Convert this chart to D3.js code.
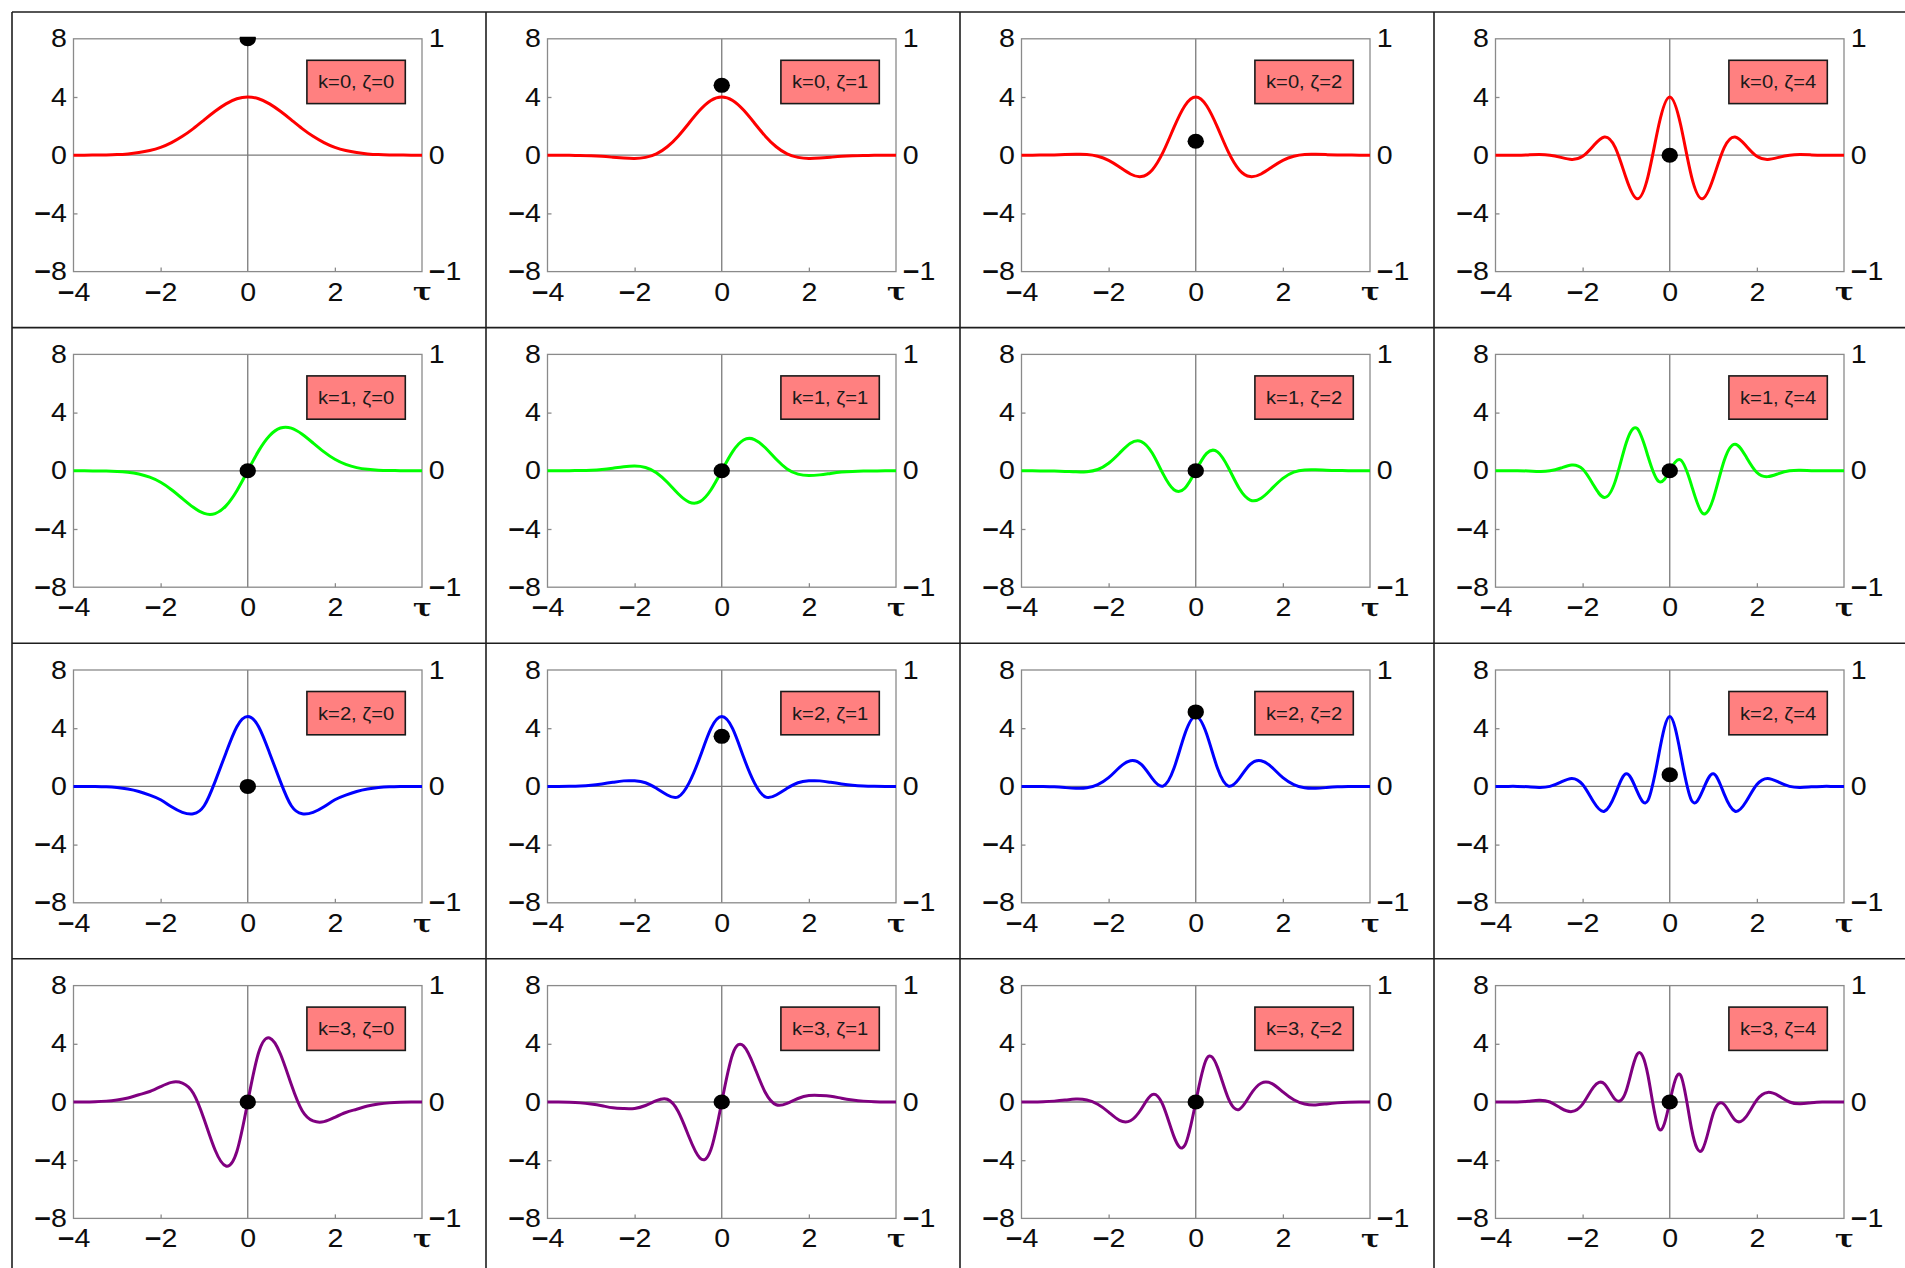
<!DOCTYPE html>
<html lang="en">
<head>
<meta charset="UTF-8">
<title>k / zeta panels</title>
<script src="https://cdn.jsdelivr.net/npm/d3@7"></script>
<style>
  body { margin: 0; background: #fff; }
  svg { display: block; font-family: "Liberation Sans", Arial, sans-serif; }
  .grid { stroke: #1e1e1e; stroke-width: 1.6; }
  .frame { fill: none; stroke: #8a8a8a; stroke-width: 1.3; }
  .zero { stroke: #7a7a7a; stroke-width: 1.3; }
  .axis line { stroke: #8a8a8a; stroke-width: 1.3; }
  .axis text { font-size: 25.5px; fill: #0d0d0d; }
  .axis text .minus { font-weight: bold; }
  .axis text.tau { font-family: "DejaVu Serif", serif; font-weight: bold; font-size: 25px; }
  .legend rect { fill: #ff8080; stroke: #1a1a1a; stroke-width: 1.6; }
  .legend text { font-size: 18px; fill: #1a1a1a; text-anchor: middle; }
  .curve { fill: none; stroke-width: 3; stroke-linejoin: round; }
</style>
</head>
<body>
<svg width="1905" height="1268"></svg>
<script>
// sample points along tau
const tau = [-4, -3.75, -3.5, -3.25, -3, -2.75, -2.5, -2.25, -2, -1.75, -1.5, -1.25, -1, -0.75, -0.5, -0.25,
             0, 0.25, 0.5, 0.75, 1, 1.25, 1.5, 1.75, 2, 2.25, 2.5, 2.75, 3, 3.25, 3.5, 3.75, 4];

const kValues = [0, 1, 2, 3];
const zetaValues = [0, 1, 2, 4];
const leftTicks = [-8, -4, 0, 4, 8];
const rightTicks = [-1, 0, 1];
const bottomTicks = [-4, -2, 0, 2, 4];

// curve values (left axis units), one array per panel
const k0z0 = [0, 0, 0.01, 0.02, 0.04, 0.09, 0.18, 0.32, 0.54, 0.87, 1.3, 1.83, 2.43, 3.02, 3.53, 3.88, 4, 3.88, 3.53, 3.02, 2.43, 1.83, 1.3, 0.87, 0.54, 0.32, 0.18, 0.09, 0.04, 0.02, 0.01, 0, 0];
const k0z1 = [0, 0, -0.01, -0.02, -0.04, -0.08, -0.14, -0.2, -0.23, -0.15, 0.09, 0.58, 1.31, 2.21, 3.1, 3.76, 4, 3.76, 3.1, 2.21, 1.31, 0.58, 0.09, -0.15, -0.23, -0.2, -0.14, -0.08, -0.04, -0.02, -0.01, 0, 0];
const k0z2 = [0, 0, 0.01, 0.02, 0.04, 0.06, 0.05, -0.07, -0.35, -0.81, -1.29, -1.47, -1.01, 0.21, 1.91, 3.4, 4, 3.4, 1.91, 0.21, -1.01, -1.47, -1.29, -0.81, -0.35, -0.07, 0.05, 0.06, 0.04, 0.02, 0.01, 0, 0];
const k0z4 = [0, 0, 0, 0.02, 0.04, 0, -0.15, -0.29, -0.08, 0.65, 1.25, 0.52, -1.59, -2.99, -1.47, 2.09, 4, 2.09, -1.47, -2.99, -1.59, 0.52, 1.25, 0.65, -0.08, -0.29, -0.15, 0, 0.04, 0.02, 0, 0, 0];

const k1z0 = [0, 0, -0.01, -0.02, -0.04, -0.1, -0.22, -0.44, -0.79, -1.3, -1.91, -2.51, -2.93, -2.94, -2.41, -1.37, 0, 1.37, 2.41, 2.94, 2.93, 2.51, 1.91, 1.3, 0.79, 0.44, 0.22, 0.1, 0.04, 0.02, 0.01, 0, 0];
const k1z1 = [0, 0, 0.01, 0.02, 0.04, 0.09, 0.18, 0.28, 0.33, 0.23, -0.13, -0.79, -1.58, -2.15, -2.12, -1.32, 0, 1.32, 2.12, 2.15, 1.58, 0.79, 0.13, -0.23, -0.33, -0.28, -0.18, -0.09, -0.04, -0.02, -0.01, 0, 0];
const k1z2 = [0, 0, -0.01, -0.02, -0.04, -0.07, -0.06, 0.09, 0.52, 1.21, 1.89, 2.01, 1.22, -0.21, -1.3, -1.2, 0, 1.2, 1.3, 0.21, -1.22, -2.01, -1.89, -1.21, -0.52, -0.09, 0.06, 0.07, 0.04, 0.02, 0.01, 0, 0];
const k1z4 = [0, 0, 0, -0.01, -0.04, 0, 0.19, 0.4, 0.12, -0.98, -1.83, -0.71, 1.91, 2.91, 1, -0.74, 0, 0.74, -1, -2.91, -1.91, 0.71, 1.83, 0.98, -0.12, -0.4, -0.19, 0, 0.04, 0.01, 0, 0, 0];

const k2z0 = [0, 0, -0.01, -0.03, -0.08, -0.18, -0.35, -0.6, -0.92, -1.4, -1.78, -1.88, -1.33, 0.33, 2.3, 4.1, 4.8, 4.1, 2.3, 0.33, -1.33, -1.88, -1.78, -1.4, -0.92, -0.6, -0.35, -0.18, -0.08, -0.03, -0.01, 0, 0];
const k2z1 = [0, 0, 0.01, 0.03, 0.08, 0.17, 0.28, 0.38, 0.38, 0.25, -0.13, -0.59, -0.72, 0.24, 2.02, 3.97, 4.8, 3.97, 2.02, 0.24, -0.72, -0.59, -0.13, 0.25, 0.38, 0.38, 0.28, 0.17, 0.08, 0.03, 0.01, 0, 0];
const k2z2 = [0, 0, -0.01, -0.03, -0.08, -0.13, -0.1, 0.13, 0.6, 1.31, 1.76, 1.51, 0.55, 0.02, 1.24, 3.6, 4.8, 3.6, 1.24, 0.02, 0.55, 1.51, 1.76, 1.31, 0.6, 0.13, -0.1, -0.13, -0.08, -0.03, -0.01, 0, 0];
const k2z4 = [0, 0, 0, -0.03, -0.07, 0, 0.29, 0.55, 0.13, -1.06, -1.71, -0.53, 0.87, -0.33, -0.96, 2.22, 4.8, 2.22, -0.96, -0.33, 0.87, -0.53, -1.71, -1.06, 0.13, 0.55, 0.29, 0, -0.07, -0.03, 0, 0, 0];

const k3z0 = [0, 0, 0.02, 0.06, 0.14, 0.28, 0.5, 0.72, 1.05, 1.35, 1.3, 0.6, -1.2, -3.3, -4.4, -3.4, 0, 3.4, 4.4, 3.3, 1.2, -0.6, -1.3, -1.35, -1.05, -0.72, -0.5, -0.28, -0.14, -0.06, -0.02, 0, 0];
const k3z1 = [0, 0, -0.02, -0.06, -0.14, -0.26, -0.4, -0.45, -0.44, -0.24, 0.09, 0.19, -0.65, -2.41, -3.86, -3.29, 0, 3.29, 3.86, 2.41, 0.65, -0.19, -0.09, 0.24, 0.44, 0.45, 0.4, 0.26, 0.14, 0.06, 0.02, 0, 0];
const k3z2 = [0, 0, 0.02, 0.06, 0.13, 0.2, 0.14, -0.15, -0.69, -1.26, -1.29, -0.48, 0.5, -0.23, -2.38, -2.98, 0, 2.98, 2.38, 0.23, -0.5, 0.48, 1.29, 1.26, 0.69, 0.15, -0.14, -0.2, -0.13, -0.06, -0.02, 0, 0];
const k3z4 = [0, 0, 0, 0.05, 0.12, 0, -0.42, -0.66, -0.15, 1.02, 1.25, 0.17, 0.78, 3.27, 1.83, -1.84, 0, 1.84, -1.83, -3.27, -0.78, -0.17, -1.25, -1.02, 0.15, 0.66, 0.42, 0, -0.12, -0.05, 0, 0, 0];

const seriesByK = [
  [k0z0, k0z1, k0z2, k0z4],
  [k1z0, k1z1, k1z2, k1z4],
  [k2z0, k2z1, k2z2, k2z4],
  [k3z0, k3z1, k3z2, k3z4]
];

// black dot at tau = 0 (right axis units)
const dotValues = [
  [1, 0.6, 0.12, 0],
  [0, 0, 0, 0],
  [0, 0.43, 0.64, 0.1],
  [0, 0, 0, 0]
];

const lineColors = ["#ff0000", "#00ff00", "#0000ff", "#800080"];

// layout
const cellX0 = 12, cellY0 = 12, cellW = 474, cellH = 315.6;
const padL = 61.5, padT = 26.8, pw = 348.5, ph = 232.8;
const sx = 1.12; // text is a bit wide in the original

const svg = d3.select("svg");

// put a heavy minus in front of negative numbers
function labelText(sel, fmtFn) {
  sel.each(function(d) {
    const t = d3.select(this);
    const s = fmtFn(d);
    t.text(null);
    if (d < 0) {
      t.append("tspan").attr("class", "minus").text("\u2212");
      t.append("tspan").text(s.slice(1));
    } else {
      t.text(s);
    }
  });
}

const fmt = d => d < 0 ? "\u2212" + Math.abs(d) : String(d);

kValues.forEach((k, r) => {
  zetaValues.forEach((zeta, c) => {
    const px = cellX0 + c * cellW + padL;
    const py = cellY0 + r * cellH + padT;
    const g = svg.append("g").attr("transform", `translate(${px},${py})`);

    const x = d3.scaleLinear().domain([-4, 4]).range([0, pw]);
    const y = d3.scaleLinear().domain([-8, 8]).range([ph, 0]);
    const y2 = d3.scaleLinear().domain([-1, 1]).range([ph, 0]);

    const clipId = `clip-${r}-${c}`;
    g.append("clipPath").attr("id", clipId)
      .append("rect").attr("x", -3).attr("y", -2).attr("width", pw + 6).attr("height", ph + 4);

    // zero lines
    g.append("line").attr("class", "zero")
      .attr("x1", 0).attr("x2", pw).attr("y1", y(0)).attr("y2", y(0));
    g.append("line").attr("class", "zero")
      .attr("x1", x(0)).attr("x2", x(0)).attr("y1", 0).attr("y2", ph);

    g.append("rect").attr("class", "frame")
      .attr("x", 0).attr("y", 0).attr("width", pw).attr("height", ph);

    // axes
    const left = g.append("g").attr("class", "axis")
      .call(d3.axisLeft(y).tickValues(leftTicks).tickSize(-4).tickPadding(6).tickFormat(fmt));
    const bottom = g.append("g").attr("class", "axis").attr("transform", `translate(0,${ph})`)
      .call(d3.axisBottom(x).tickValues(bottomTicks).tickSize(-4).tickPadding(11)
        .tickFormat(d => d === 4 ? "\u03c4" : fmt(d)));
    const right = g.append("g").attr("class", "axis").attr("transform", `translate(${pw},0)`)
      .call(d3.axisRight(y2).tickValues(rightTicks).tickSize(0).tickPadding(6).tickFormat(fmt));

    [left, bottom, right].forEach(a => {
      a.select(".domain").remove();
      a.selectAll("text").attr("transform", `scale(${sx},1)`);
    });
    labelText(left.selectAll(".tick text"), fmt);
    labelText(right.selectAll(".tick text"), fmt);
    labelText(bottom.selectAll(".tick").filter(d => d !== 4).select("text"), fmt);
    bottom.selectAll(".tick").filter(d => d === 4).select("text").attr("class", "tau");
    bottom.selectAll(".tick").filter(d => d === 0 || d === 4 || d === -4).select("line").remove();
    left.selectAll(".tick").filter(d => d === 0 || d === 8 || d === -8).select("line").remove();

    // curve
    const line = d3.line()
      .x((d, i) => x(tau[i]))
      .y(d => y(d))
      .curve(d3.curveNatural);
    g.append("path").attr("class", "curve")
      .attr("clip-path", `url(#${clipId})`)
      .attr("stroke", lineColors[r])
      .attr("d", line(seriesByK[r][c]));

    // dot
    g.append("ellipse")
      .attr("clip-path", `url(#${clipId})`)
      .attr("cx", x(0)).attr("cy", y2(dotValues[r][c]))
      .attr("rx", 8.2).attr("ry", 7.5)
      .attr("fill", "#000");

    // legend box
    const lw = 98.4, lh = 43.3;
    const lg = g.append("g").attr("class", "legend")
      .attr("transform", `translate(${pw - 16.7 - lw},${21.5})`);
    lg.append("rect").attr("width", lw).attr("height", lh);
    lg.append("text")
      .attr("transform", `translate(${lw / 2},${lh / 2 + 6.5}) scale(${sx},1)`)
      .text(`k=${k}, \u03b6=${zeta}`);
  });
});

// table lines
const colLines = d3.range(5).map(i => cellX0 + i * cellW);
const rowLines = d3.range(5).map(i => cellY0 + i * cellH);
svg.selectAll("line.vgrid").data(colLines).join("line").attr("class", "grid vgrid")
  .attr("x1", d => d).attr("x2", d => d).attr("y1", cellY0).attr("y2", 1268);
svg.selectAll("line.hgrid").data(rowLines).join("line").attr("class", "grid hgrid")
  .attr("x1", cellX0).attr("x2", 1905).attr("y1", d => d).attr("y2", d => d);
</script>
</body>
</html>
